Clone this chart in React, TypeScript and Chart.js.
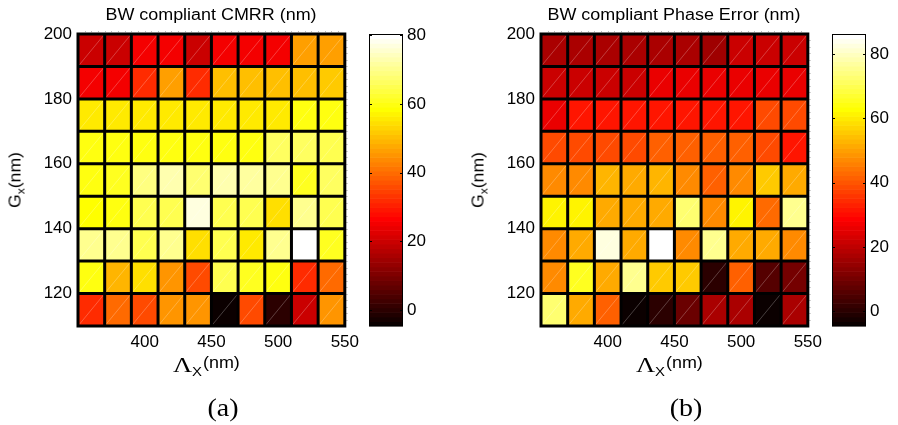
import React, { useEffect, useRef } from "react";
import { Chart, registerables } from "chart.js";

Chart.register(...registerables);

// ---------------- data ----------------
const LAMBDA_X = [360, 380, 400, 420, 440, 460, 480, 500, 520, 540];
const G_X = [195, 185, 175, 165, 155, 145, 135, 125, 115];
const X_TICKS = [400, 450, 500, 550];
const Y_TICKS = [120, 140, 160, 180, 200];
const CB_TICKS = [0, 20, 40, 60, 80];
const X_RANGE = [350, 550];
const Y_RANGE = [110, 200];
const CELL_W = 20;
const CELL_H = 10;

// rows follow G_X (top row first), columns follow LAMBDA_X
const CMRR = [
  [20.4, 20.4, 25.4, 25.4, 20.4, 25.4, 25.4, 25.4, 46.3, 46.3],
  [25.4, 25.4, 31.3, 46.3, 31.3, 50.2, 50.2, 50.2, 50.2, 51.2],
  [55.2, 55.2, 55.2, 55.2, 55.2, 55.2, 55.2, 55.2, 59.2, 59.2],
  [59.6, 59.8, 59.8, 59.8, 59.8, 59.6, 60.2, 66.0, 66.5, 65.5],
  [59.5, 60.5, 68.5, 72.5, 68.0, 72.5, 72.0, 71.0, 60.5, 67.0],
  [59.0, 60.0, 65.5, 65.5, 76.5, 65.5, 65.5, 55.0, 69.8, 65.5],
  [71.0, 71.0, 65.5, 70.0, 55.0, 65.5, 56.0, 70.0, 80.4, 60.5],
  [59.5, 49.3, 55.0, 45.3, 36.3, 65.5, 60.5, 59.5, 31.3, 40.3],
  [31.3, 40.3, 36.3, 45.3, 45.3, -4.6, 36.3, 0.4, 20.4, 45.3],
];
const CMRR_CLIM = [-4.6, 80.4];

const PHASE = [
  [16.8, 16.8, 16.8, 16.8, 16.8, 16.8, 16.3, 21.0, 21.0, 21.0],
  [21.0, 21.0, 21.0, 21.0, 26.0, 26.4, 26.4, 26.4, 26.4, 26.4],
  [26.4, 31.5, 31.5, 31.5, 31.5, 31.5, 31.5, 31.5, 38.0, 38.0],
  [39.0, 38.0, 39.0, 38.0, 41.7, 41.7, 41.7, 41.2, 38.0, 31.5],
  [47.6, 47.6, 53.0, 51.9, 53.0, 47.6, 41.2, 47.6, 56.2, 51.9],
  [61.5, 61.5, 51.9, 51.9, 51.9, 72.1, 46.5, 61.5, 42.3, 75.6],
  [46.5, 51.9, 82.7, 51.9, 86.2, 46.5, 75.6, 51.9, 51.9, 46.5],
  [46.5, 66.3, 51.9, 75.6, 56.2, 56.2, 0.8, 41.2, 6.1, 10.4],
  [72.8, 51.9, 41.2, -4.6, 0.8, 9.3, 16.8, 16.8, -4.3, 16.8],
];
const PHASE_CLIM = [-4.6, 86.2];

// ---------------- helpers ----------------
const SANS = "'Liberation Sans', Arial, Helvetica, sans-serif";
const SERIF = "'Liberation Serif', 'Times New Roman', serif";

function hot(v: number, cmin: number, cmax: number) {
  const m = 64;
  let i = Math.floor(((v - cmin) / (cmax - cmin)) * m) + 1;
  i = Math.max(1, Math.min(m, i));
  const r = Math.min(1, i / 24);
  const g = Math.max(0, Math.min(1, (i - 24) / 24));
  const b = Math.max(0, Math.min(1, (i - 48) / 16));
  return `rgb(${Math.round(r * 255)},${Math.round(g * 255)},${Math.round(b * 255)})`;
}

const heatPlugin = {
  id: "heat",
  beforeDatasetsDraw(chart: any) {
    const { ctx } = chart;
    const xs = chart.scales.x;
    const ys = chart.scales.y;
    const ds = chart.data.datasets[0];
    const [cmin, cmax] = ds.clim;
    ctx.save();
    ds.data.forEach((p: any) => {
      const x0 = xs.getPixelForValue(p.x - CELL_W / 2);
      const x1 = xs.getPixelForValue(p.x + CELL_W / 2);
      const y0 = ys.getPixelForValue(p.y + CELL_H / 2);
      const y1 = ys.getPixelForValue(p.y - CELL_H / 2);
      ctx.fillStyle = hot(p.v, cmin, cmax);
      ctx.fillRect(x0, y0, x1 - x0, y1 - y0);
      // faint render seam along the diagonal
      ctx.strokeStyle = "rgba(255,255,255,0.35)";
      ctx.lineWidth = 0.7;
      ctx.beginPath();
      ctx.moveTo(x0, y1);
      ctx.lineTo(x1, y0);
      ctx.stroke();
    });
    // cell edges
    ctx.strokeStyle = "#000";
    ctx.lineWidth = 3;
    ctx.beginPath();
    for (let xv = X_RANGE[0]; xv <= X_RANGE[1] + 1e-6; xv += CELL_W) {
      const px = xs.getPixelForValue(xv);
      ctx.moveTo(px, ys.getPixelForValue(Y_RANGE[0]) + 1.5);
      ctx.lineTo(px, ys.getPixelForValue(Y_RANGE[1]) - 1.5);
    }
    for (let yv = Y_RANGE[0]; yv <= Y_RANGE[1] + 1e-6; yv += CELL_H) {
      const py = ys.getPixelForValue(yv);
      ctx.moveTo(xs.getPixelForValue(X_RANGE[0]) - 1.5, py);
      ctx.lineTo(xs.getPixelForValue(X_RANGE[1]) + 1.5, py);
    }
    ctx.stroke();
    // minor tick marks along top and right edges
    ctx.strokeStyle = "#777";
    ctx.lineWidth = 1;
    ctx.beginPath();
    const top = ys.getPixelForValue(Y_RANGE[1]);
    const right = xs.getPixelForValue(X_RANGE[1]);
    for (let xv = X_RANGE[0] + 5; xv < X_RANGE[1]; xv += 5) {
      const px = Math.round(xs.getPixelForValue(xv)) + 0.5;
      ctx.moveTo(px, top - 2.5);
      ctx.lineTo(px, top - 1.5);
    }
    for (let yv = Y_RANGE[0] + 2; yv < Y_RANGE[1]; yv += 2) {
      const py = Math.round(ys.getPixelForValue(yv)) + 0.5;
      ctx.moveTo(right + 1.5, py);
      ctx.lineTo(right + 2.5, py);
    }
    ctx.stroke();
    ctx.restore();
  },
};

const colorbarPlugin = {
  id: "cbar",
  beforeDatasetsDraw(chart: any) {
    const { ctx, chartArea } = chart;
    const ys = chart.scales.y;
    const [cmin, cmax] = chart.data.datasets[0].clim;
    const m = 64;
    ctx.save();
    for (let i = 0; i < m; i++) {
      const v0 = cmin + ((cmax - cmin) * i) / m;
      const v1 = cmin + ((cmax - cmin) * (i + 1)) / m;
      const p0 = ys.getPixelForValue(v0);
      const p1 = ys.getPixelForValue(v1);
      ctx.fillStyle = hot((v0 + v1) / 2, cmin, cmax);
      ctx.fillRect(chartArea.left, p1, chartArea.right - chartArea.left, p0 - p1 + 0.6);
    }
    ctx.strokeStyle = "#000";
    ctx.lineWidth = 1;
    ctx.strokeRect(chartArea.left + 0.5, chartArea.top + 0.5, chartArea.right - chartArea.left - 1, chartArea.bottom - chartArea.top - 1);
    ctx.beginPath();
    CB_TICKS.forEach((t) => {
      const py = Math.round(ys.getPixelForValue(t)) + 0.5;
      ctx.moveTo(chartArea.left, py);
      ctx.lineTo(chartArea.left + 3, py);
      ctx.moveTo(chartArea.right, py);
      ctx.lineTo(chartArea.right - 3, py);
    });
    ctx.stroke();
    ctx.restore();
  },
};

const tickFont = { family: SANS, size: 17 };

function Heatmap({ values, clim, left }: { values: number[][]; clim: number[]; left: number }) {
  const ref = useRef<HTMLCanvasElement>(null);
  useEffect(() => {
    const cells: any[] = [];
    G_X.forEach((g, r) =>
      LAMBDA_X.forEach((l, c) => cells.push({ x: l, y: g, v: values[r][c] }))
    );
    const chart = new Chart(ref.current!, {
      type: "scatter",
      data: { datasets: [{ data: cells, pointRadius: 0, clim } as any] },
      options: {
        responsive: false,
        animation: false,
        devicePixelRatio: 1,
        layout: { padding: { top: 34, right: 20, left: 0, bottom: 0 } },
        plugins: { legend: { display: false }, tooltip: { enabled: false }, title: { display: false } },
        scales: {
          x: {
            type: "linear",
            min: X_RANGE[0],
            max: X_RANGE[1],
            afterBuildTicks: (s: any) => { s.ticks = X_TICKS.map((v) => ({ value: v })); },
            afterFit: (s: any) => { s.height = 34; },
            grid: { display: false, drawTicks: false },
            border: { display: false },
            ticks: { font: tickFont, color: "#000", padding: 6, maxRotation: 0, autoSkip: false },
          },
          y: {
            type: "linear",
            min: Y_RANGE[0],
            max: Y_RANGE[1],
            afterBuildTicks: (s: any) => { s.ticks = Y_TICKS.map((v) => ({ value: v })); },
            afterFit: (s: any) => { s.width = 78; },
            grid: { display: false, drawTicks: false },
            border: { display: false },
            ticks: { font: tickFont, color: "#000", padding: 6, autoSkip: false },
          },
        },
      } as any,
      plugins: [heatPlugin],
    });
    return () => chart.destroy();
  }, []);
  return (
    <canvas ref={ref} width={365} height={360}
      style={{ position: "absolute", left, top: 0, width: 365, height: 360 }} />
  );
}

function ColorBar({ clim, left }: { clim: number[]; left: number }) {
  const ref = useRef<HTMLCanvasElement>(null);
  useEffect(() => {
    const chart = new Chart(ref.current!, {
      type: "scatter",
      data: { datasets: [{ data: [], clim } as any] },
      options: {
        responsive: false,
        animation: false,
        devicePixelRatio: 1,
        layout: { padding: { top: 34, right: 0, left: 9, bottom: 34 } },
        plugins: { legend: { display: false }, tooltip: { enabled: false } },
        scales: {
          x: { type: "linear", display: false, min: 0, max: 1 },
          y: {
            type: "linear",
            position: "right",
            min: clim[0],
            max: clim[1],
            afterBuildTicks: (s: any) => { s.ticks = CB_TICKS.map((v) => ({ value: v })); },
            afterFit: (s: any) => { s.width = 31; },
            grid: { display: false, drawTicks: false },
            border: { display: false },
            ticks: { font: tickFont, color: "#000", padding: 4, autoSkip: false },
          },
        },
      } as any,
      plugins: [colorbarPlugin],
    });
    return () => chart.destroy();
  }, []);
  return (
    <canvas ref={ref} width={74} height={360}
      style={{ position: "absolute", left, top: 0, width: 74, height: 360 }} />
  );
}

// text placed by baseline, optionally widened horizontally
function Txt({ x, base, size, family, center, sx = 1, children }: any) {
  const k = family === SERIF ? 0.8375 : 0.8465;
  return (
    <div
      style={{
        position: "absolute",
        left: x,
        top: base - k * size,
        fontSize: size,
        lineHeight: `${size}px`,
        fontFamily: family,
        whiteSpace: "nowrap",
        color: "#000",
        transformOrigin: center ? "50% 50%" : "0 50%",
        transform: center ? `translateX(-50%) scaleX(${sx})` : `scaleX(${sx})`,
      }}
    >
      {children}
    </div>
  );
}

function Panel({ off, values, clim, title, tag }: any) {
  return (
    <>
      <Heatmap values={values} clim={clim} left={off} />
      <ColorBar clim={clim} left={off + 360} />
      <Txt x={off + 211} base={21} size={16} family={SANS} center sx={1.12}>{title}</Txt>
      <div
        style={{
          position: "absolute",
          left: off + 16,
          top: 180,
          transform: "translate(-50%,-50%) rotate(-90deg) scaleX(1.1)",
          fontFamily: SANS,
          fontSize: 16,
          lineHeight: "16px",
          whiteSpace: "nowrap",
          color: "#000",
        }}
      >
        G<span style={{ fontSize: 11, position: "relative", top: 4 }}>x</span>(nm)
      </div>
      <Txt x={off + 173} base={372} size={22} family={SERIF} sx={1.2}>Λ</Txt>
      <Txt x={off + 192} base={376.5} size={13} family={SANS} sx={1.15}>X</Txt>
      <Txt x={off + 203} base={369} size={16} family={SANS} sx={1.12}>(nm)</Txt>
      <Txt x={off + 223} base={415.5} size={25} family={SERIF} center sx={1.12}>{tag}</Txt>
    </>
  );
}

export default function App() {
  return (
    <div
      style={{
        position: "absolute",
        left: 0,
        top: 0,
        width: 898,
        height: 425,
        overflow: "hidden",
        background: "#fff",
      }}
    >
      <Panel off={0} values={CMRR} clim={CMRR_CLIM} title="BW compliant CMRR (nm)" tag="(a)" />
      <Panel off={463} values={PHASE} clim={PHASE_CLIM} title="BW compliant Phase Error (nm)" tag="(b)" />
    </div>
  );
}
